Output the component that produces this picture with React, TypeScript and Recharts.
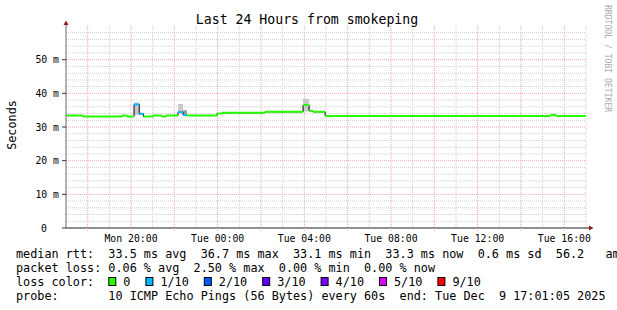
import React from "react";
import {
  Area,
  CartesianGrid,
  ComposedChart,
  Line,
  ReferenceDot,
  XAxis,
  YAxis,
} from "recharts";

// time is hours counted from Mon 00:00, rtt is in milliseconds
const segStartH = [
  17.03, 17.78, 19.58, 19.82, 20.14, 20.38, 20.58, 21.02, 21.43, 21.62, 22.17,
  22.4, 22.58, 23.97, 24.2, 26.18, 27.94, 28.22, 28.4, 28.96, 39.38, 39.62,
];
const dataEndH = 41;
const medianMs = [
  33.4, 33.1, 33.4, 33.1, 36.7, 33.9, 33.1, 33.4, 33.1, 33.4, 34.4,
  33.6, 33.4, 34.0, 34.2, 34.5, 36.5, 34.8, 34.5, 33.3, 33.6, 33.3,
];
const lostPings = [0, 0, 0, 0, 1, 1, 0, 0, 0, 0, 1, 1, 0, 0, 0, 0, 0, 0, 0, 0, 0, 0];
const smokeLowMs = [
  null, null, null, null, 33.6, null, null, null, null, null, 34.4,
  33.6, null, null, null, null, 34.6, null, null, null, null, null,
];
const smokeHighMs = [
  null, null, null, null, 37.3, null, null, null, null, null, 36.8,
  35.0, null, null, null, null, 38.4, null, null, null, null, null,
];
const smokeIsDark = [
  false, false, false, false, false, false, false, false, false, false, false,
  true, false, false, false, false, false, false, false, false, false, false,
];

const lossLegend = [
  { label: "0", color: "#26ff00" },
  { label: "1/10", color: "#00b8ff" },
  { label: "2/10", color: "#0059ff" },
  { label: "3/10", color: "#5e00ff" },
  { label: "4/10", color: "#7e00ff" },
  { label: "5/10", color: "#dd00ff" },
  { label: "9/10", color: "#ff0000" },
];

// axis ticks and grid
const yTickMs = [0, 10, 20, 30, 40, 50];
const majorMs = [10, 20, 30, 40, 50];
const minorMs = [2, 4, 6, 8, 12, 14, 16, 18, 22, 24, 26, 28, 32, 34, 36, 38, 42, 44, 46, 48, 52, 54, 56, 58];
const majorHours = [18, 20, 22, 24, 26, 28, 30, 32, 34, 36, 38, 40];
const minorHours = [19, 21, 23, 25, 27, 29, 31, 33, 35, 37, 39, 41];
const labelHours = [20, 24, 28, 32, 36, 40];
const dayNames = ["Mon", "Tue"];

// legend texts
const rttValues = ["33.5", "36.7", "33.1", "33.3", "0.6", "56.2"];
const rttUnits = ["ms avg", "ms max", "ms min", "ms now", "ms sd", "  am/s"];
const lossValues = ["0.06", "2.50", "0.00", "0.00"];
const lossUnits = ["% avg", "% max", "% min", "% now"];
const probeText = "10 ICMP Echo Pings (56 Bytes) every 60s  end: Tue Dec  9 17:01:05 2025";

const FONT = '"DejaVu Sans Mono", monospace';
const CH = 7.1;
const GRID_MINOR = "#cfcfcf";
const GRID_MAJOR = "#f2a6a6";
const ARROW = "#8e1c1c";

const rows: any[] = [];
segStartH.forEach((start, i) => {
  const end = i + 1 < segStartH.length ? segStartH[i + 1] : dataEndH;
  const point: any = { med: medianMs[i] };
  point[`loss${lostPings[i]}`] = medianMs[i];
  if (smokeLowMs[i] != null) {
    point[smokeIsDark[i] ? "smokeDark" : "smokeLight"] = [smokeLowMs[i], smokeHighMs[i]];
  }
  rows.push({ t: start, ...point }, { t: end, ...point }, { t: end });
});
const lossLevels = Array.from(new Set(lostPings));

const scaleOf = (axis: any, v: number) => {
  const s = axis?.scale;
  if (!s) return NaN;
  return typeof s === "function" ? s(v) : s.map(v);
};

function HourTick(props: any) {
  const { x, y, payload } = props;
  const h = payload.value;
  if (!labelHours.includes(h)) return <g />;
  const hh = String(h % 24).padStart(2, "0");
  return (
    <text x={x} y={y + 11} textAnchor="middle" fontFamily={FONT} fontSize={9.8} fill="#000">
      {`${dayNames[Math.floor(h / 24)]} ${hh}:00`}
    </text>
  );
}

function MsTick(props: any) {
  const { x, y, payload } = props;
  const v = payload.value;
  return (
    <text x={v === 0 ? x - 12 : x} y={y + 3.5} textAnchor="end" fontFamily={FONT} fontSize={9.8} fill="#000">
      {v === 0 ? "0" : `${v} m`}
    </text>
  );
}

const XArrow = ({ cx, cy }: any) => (
  <g>
    <line x1={cx} x2={cx + 3} y1={cy} y2={cy} stroke="#222" />
    <polygon points={`${cx + 3},${cy - 2.5} ${cx + 7.5},${cy} ${cx + 3},${cy + 2.5}`} fill={ARROW} />
  </g>
);

const YArrow = ({ cx, cy }: any) => (
  <g>
    <line x1={cx} x2={cx} y1={cy} y2={cy - 1} stroke="#666" />
    <polygon points={`${cx - 2.5},${cy - 1} ${cx},${cy - 5.5} ${cx + 2.5},${cy - 1}`} fill={ARROW} />
  </g>
);

function LegendLines() {
  const rtt = rttValues.map((v, i) => `${v} ${rttUnits[i]}`).join("  ");
  const loss = lossValues.map((v, i) => `${v} ${lossUnits[i]}`).join("  ");
  const textProps = {
    fontFamily: FONT,
    fontSize: 11.8,
    fill: "#000",
    xmlSpace: "preserve",
    style: { whiteSpace: "pre" as const },
  };
  let cx = 16 + 13 * CH;
  const items = lossLegend.map((it) => {
    const sq = cx;
    const lx = cx + 15;
    cx = lx + it.label.length * CH + 15;
    return (
      <g key={it.label}>
        <rect x={sq + 0.5} y={277.5} width={7} height={8} fill={it.color} stroke="#000" strokeWidth={1} />
        <text x={lx} y={286} {...textProps}>{it.label}</text>
      </g>
    );
  });
  return (
    <svg width={617} height={310} style={{ position: "absolute", left: 0, top: 0, overflow: "hidden" }}>
      <text x={307} y={24} textAnchor="middle" fontFamily={FONT} fontSize={13.2} fill="#000">
        Last 24 Hours from smokeping
      </text>
      <text transform="translate(16,125) rotate(-90)" textAnchor="middle" fontFamily={FONT} fontSize={11.8} fill="#000">
        Seconds
      </text>
      <text transform="translate(605,5) rotate(90)" fontFamily={FONT} fontSize={8.1} fill="#ababab">
        RRDTOOL / TOBI OETIKER
      </text>
      <text x={16} y={258} {...textProps}>{`median rtt:  ${rtt}`}</text>
      <text x={16} y={272} {...textProps}>{`packet loss: ${loss}`}</text>
      <text x={16} y={286} {...textProps}>{"loss color:"}</text>
      {items}
      <text x={16} y={300} {...textProps}>{`probe:       ${probeText}`}</text>
    </svg>
  );
}

export default function App() {
  return (
    <div
      style={{
        position: "absolute",
        left: 0,
        top: 0,
        width: 617,
        height: 310,
        background: "#fff",
        overflow: "hidden",
      }}
    >
      <ComposedChart width={617} height={310} data={rows} margin={{ top: 26, right: 31, bottom: 0, left: 0 }}>
        {/* minor and major dotted grid */}
        <CartesianGrid
          stroke={GRID_MINOR}
          strokeDasharray="1 1"
          horizontalCoordinatesGenerator={({ yAxis }: any) => minorMs.map((v) => scaleOf(yAxis, v)).filter((p) => !isNaN(p))}
          verticalCoordinatesGenerator={({ xAxis }: any) => minorHours.map((h) => scaleOf(xAxis, h)).filter((p) => !isNaN(p))}
        />
        <CartesianGrid
          stroke={GRID_MAJOR}
          strokeDasharray="1 1"
          horizontalCoordinatesGenerator={({ yAxis }: any) => majorMs.map((v) => scaleOf(yAxis, v)).filter((p) => !isNaN(p))}
          verticalCoordinatesGenerator={({ xAxis }: any) => majorHours.map((h) => scaleOf(xAxis, h)).filter((p) => !isNaN(p))}
        />

        <XAxis
          dataKey="t"
          type="number"
          domain={[17, 41]}
          allowDataOverflow
          ticks={majorHours}
          interval={0}
          height={82}
          tickSize={3}
          tickMargin={0}
          axisLine={{ stroke: "#222" }}
          tickLine={{ stroke: GRID_MAJOR, strokeDasharray: "1 1" }}
          tick={<HourTick />}
        />
        <YAxis
          type="number"
          domain={[0, 60]}
          allowDataOverflow
          ticks={yTickMs}
          interval={0}
          width={66}
          tickSize={4}
          tickMargin={3}
          axisLine={{ stroke: "#666" }}
          tickLine={{ stroke: "#333" }}
          tick={<MsTick />}
        />

        {/* smoke */}
        <Area
          dataKey="smokeLight"
          type="linear"
          stroke="none"
          fill="#c9c9c9"
          fillOpacity={1}
          dot={false}
          activeDot={false}
          isAnimationActive={false}
        />
        <Area
          dataKey="smokeDark"
          type="linear"
          stroke="none"
          fill="#9a9a9a"
          fillOpacity={1}
          dot={false}
          activeDot={false}
          isAnimationActive={false}
        />

        {/* median, black underneath shows the jumps */}
        <Line
          dataKey="med"
          type="linear"
          stroke="#000"
          strokeWidth={1}
          dot={false}
          activeDot={false}
          connectNulls
          isAnimationActive={false}
        />
        {lossLevels.map((k) => (
          <Line
            key={k}
            dataKey={`loss${k}`}
            type="linear"
            stroke={lossLegend[k].color}
            strokeWidth={2}
            dot={false}
            activeDot={false}
            isAnimationActive={false}
          />
        ))}

        <ReferenceDot x={41} y={0} r={0} ifOverflow="visible" shape={(p: any) => <XArrow {...p} />} />
        <ReferenceDot x={17} y={60} r={0} ifOverflow="visible" shape={(p: any) => <YArrow {...p} />} />
      </ComposedChart>
      <LegendLines />
    </div>
  );
}
